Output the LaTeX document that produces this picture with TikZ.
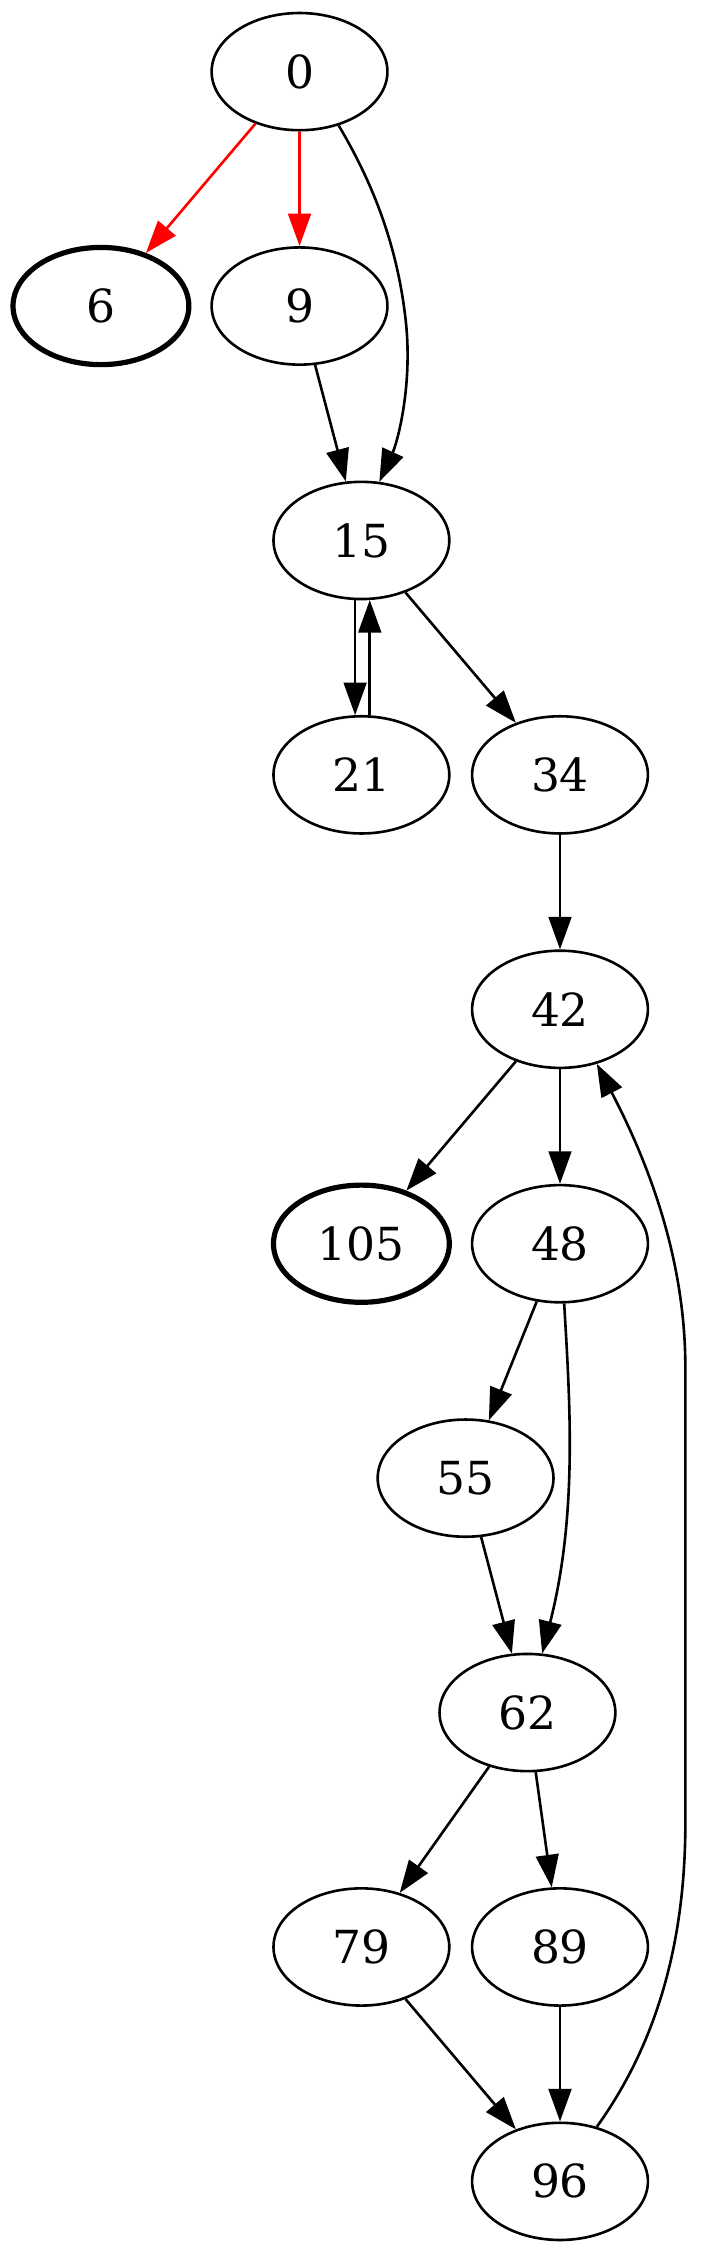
\documentclass[tikz,border=0pt]{standalone}
\usepackage{fontspec}
\setmainfont{DejaVu Serif}
\usetikzlibrary{shapes.geometric,arrows.meta}
\begin{document}
\begin{tikzpicture}[x=1pt,y=-1pt,
  gnode/.style={ellipse,draw,line width=0.8pt,minimum width=54pt,minimum height=36pt,inner sep=0pt,font=\fontsize{14}{16}\selectfont},
  boldnode/.style={gnode,line width=1.6pt},
  edge/.style={line width=0.8pt,-{Triangle[length=10pt,width=7pt]}},
  rededge/.style={edge,draw=red,fill=red}]
\useasboundingbox (0,0) rectangle (215,692);
\node[gnode] (n0) at (92,22) {0};
\node[boldnode] (n6) at (31,94) {6};
\node[gnode] (n9) at (92,94) {9};
\node[gnode] (n15) at (111,166) {15};
\node[gnode] (n21) at (111,238) {21};
\node[gnode] (n34) at (172,238) {34};
\node[gnode] (n42) at (172,310) {42};
\node[boldnode] (n105) at (111,382) {105};
\node[gnode] (n48) at (172,382) {48};
\node[gnode] (n55) at (143,454) {55};
\node[gnode] (n62) at (162,526) {62};
\node[gnode] (n79) at (111,598) {79};
\node[gnode] (n89) at (172,598) {89};
\node[gnode] (n96) at (172,670) {96};
\draw[rededge] (n0) -- (n6);
\draw[rededge] (n0) -- (n9);
\draw[edge] (n0.-54) .. controls (115,57) and (122,76) .. (124.5,97.5) .. controls (127,118) and (122,136) .. (n15.73);
\draw[edge] (n9) -- (n15);
\draw[edge] (n15.-96.4) -- (n21.96.4);
\draw[edge] (n21.82.1) -- (n15.-82.1);
\draw[edge] (n15) -- (n34);
\draw[edge] (n34) -- (n42);
\draw[edge] (n42) -- (n105);
\draw[edge] (n42) -- (n48);
\draw[edge] (n48) -- (n55);
\draw[edge] (n48.-86.2) .. controls (175,430) and (177.5,465) .. (n62.76.6);
\draw[edge] (n55) -- (n62);
\draw[edge] (n62) -- (n79);
\draw[edge] (n62) -- (n89);
\draw[edge] (n79) -- (n96);
\draw[edge] (n89) -- (n96);
\draw[edge] (n96.56) .. controls (200,630) and (210.5,600) .. (210.5,560) -- (210.5,420) .. controls (210.5,385) and (198,355) .. (n42.-56);
\end{tikzpicture}
\end{document}
